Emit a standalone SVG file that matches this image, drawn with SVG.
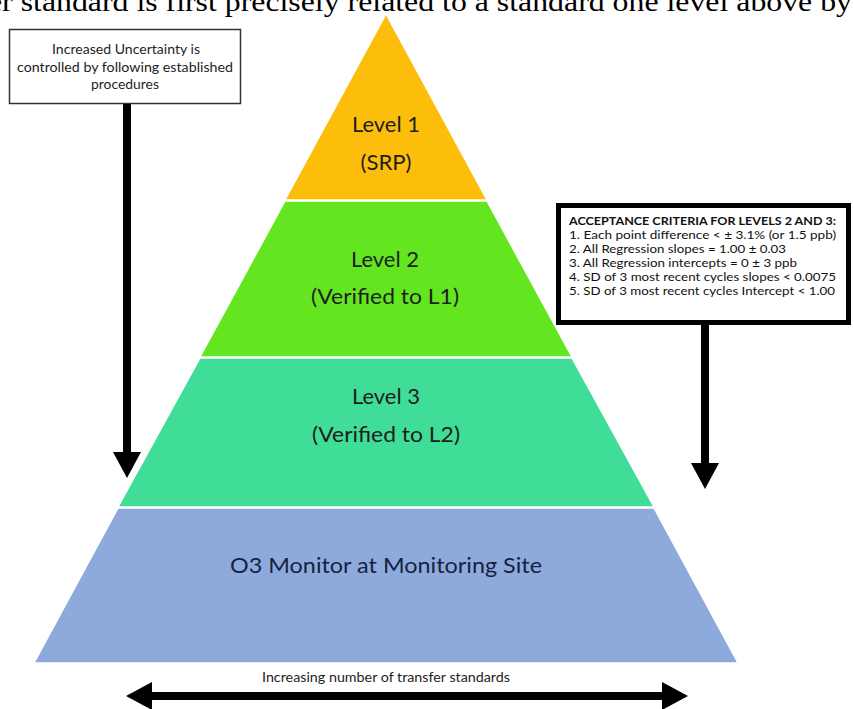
<svg xmlns="http://www.w3.org/2000/svg" width="854" height="709" viewBox="0 0 854 709">
  <style>
    .lbl { font-family: Lato, "Liberation Sans", Arial, sans-serif; fill: #1e1e1e; text-anchor: middle; }
    .big { font-size: 22px; }
    .small { font-size: 13px; }
    .crit { font-family: Lato, "Liberation Sans", Arial, sans-serif; font-size: 12px; fill: #111; }
    .band { stroke: #ffffff; stroke-width: 1.5; }
    .conn { stroke: #000; stroke-width: 8; fill: none; }
  </style>
  <defs>
    <marker id="head" viewBox="0 0 26 28" refX="0" refY="14" markerWidth="26" markerHeight="28" markerUnits="userSpaceOnUse" orient="auto-start-reverse">
      <path d="M0,0 L26,14 L0,28 Z" fill="#000"/>
    </marker>
  </defs>

  <rect width="854" height="709" fill="#ffffff"/>

  <!-- caption line running off the top edge -->
  <text x="-12" y="11" font-family="'Liberation Serif', 'Times New Roman', serif" font-size="28" fill="#000" textLength="864" lengthAdjust="spacingAndGlyphs">er standard is first precisely related to a standard one level above by</text>

  <!-- pyramid tiers -->
  <g id="level1">
    <polygon class="band" points="386,14 487,200 285,200" fill="#FDBD0B"/>
    <text class="lbl big" x="386" y="132" textLength="68" lengthAdjust="spacingAndGlyphs">Level 1</text>
    <text class="lbl big" x="386" y="170" textLength="51" lengthAdjust="spacingAndGlyphs">(SRP)</text>
  </g>
  <g id="level2">
    <polygon class="band" points="285,201 487,201 572,357 200,357" fill="#63E620"/>
    <text class="lbl big" x="385" y="267" textLength="68" lengthAdjust="spacingAndGlyphs">Level 2</text>
    <text class="lbl big" x="385" y="304" textLength="148" lengthAdjust="spacingAndGlyphs">(Verified to L1)</text>
  </g>
  <g id="level3">
    <polygon class="band" points="200,358 572,358 654,507 118,507" fill="#3FDD97"/>
    <text class="lbl big" x="386" y="404" textLength="68" lengthAdjust="spacingAndGlyphs">Level 3</text>
    <text class="lbl big" x="386" y="442" textLength="148" lengthAdjust="spacingAndGlyphs">(Verified to L2)</text>
  </g>
  <g id="monitor">
    <polygon class="band" points="118,508 654,508 738,663 34,663" fill="#8EAADD"/>
    <text class="lbl big" x="386" y="573" style="fill:#14233f" textLength="312" lengthAdjust="spacingAndGlyphs">O3 Monitor at Monitoring Site</text>
  </g>

  <!-- note boxes -->
  <g id="uncertainty-note">
    <rect x="9.5" y="29.5" width="231" height="74" fill="#fff" stroke="#333" stroke-width="1.5"/>
    <text class="lbl small" x="126" y="53.5" textLength="148" lengthAdjust="spacingAndGlyphs">Increased Uncertainty is</text>
    <text class="lbl small" x="125" y="71.5" textLength="216" lengthAdjust="spacingAndGlyphs">controlled by following established</text>
    <text class="lbl small" x="125" y="88.5" textLength="68" lengthAdjust="spacingAndGlyphs">procedures</text>
  </g>
  <g id="acceptance-criteria">
    <rect x="558.5" y="205.5" width="290" height="117" fill="#fff" stroke="#000" stroke-width="5"/>
    <text class="crit" x="569" y="224.5" font-weight="bold" textLength="267" lengthAdjust="spacingAndGlyphs">ACCEPTANCE CRITERIA FOR LEVELS 2 AND 3:</text>
    <text class="crit" x="569" y="238.5" textLength="267" lengthAdjust="spacingAndGlyphs">1. Each point difference &lt; ± 3.1% (or 1.5 ppb)</text>
    <text class="crit" x="569" y="252.5" textLength="217" lengthAdjust="spacingAndGlyphs">2. All Regression slopes = 1.00 ± 0.03</text>
    <text class="crit" x="569" y="267" textLength="228" lengthAdjust="spacingAndGlyphs">3. All Regression intercepts = 0 ± 3 ppb</text>
    <text class="crit" x="569" y="281" textLength="267" lengthAdjust="spacingAndGlyphs">4. SD of 3 most recent cycles slopes  &lt; 0.0075</text>
    <text class="crit" x="569" y="295" textLength="266" lengthAdjust="spacingAndGlyphs">5. SD of 3 most recent cycles Intercept &lt; 1.00</text>
  </g>

  <g id="axis-label">
    <text class="lbl small" x="386" y="682" textLength="248" lengthAdjust="spacingAndGlyphs">Increasing number of transfer standards</text>
  </g>

  <!-- arrows -->
  <g id="connectors">
    <path class="conn" d="M127,104 L127,452" marker-end="url(#head)"/>
    <path class="conn" d="M705,325 L705,463" marker-end="url(#head)"/>
    <path class="conn" d="M152,696 L662,696" marker-start="url(#head)" marker-end="url(#head)"/>
  </g>
</svg>
